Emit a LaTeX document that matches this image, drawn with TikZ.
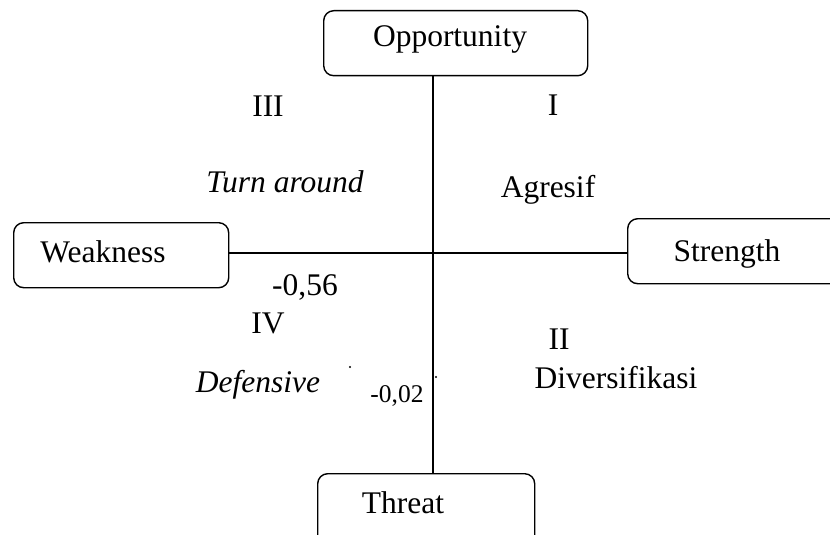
\documentclass[tikz,border=0pt]{standalone}
\usepackage{fontspec}
\setmainfont{Liberation Serif}
\begin{document}
\begin{tikzpicture}[x=1pt,y=-1pt,
  box/.style={draw,line width=1.4pt,rounded corners=10pt,inner sep=0pt,anchor=north west},
  lbl/.style={inner sep=0pt,anchor=base,font=\fontsize{31.5}{36}\selectfont},
  small/.style={inner sep=0pt,anchor=base,font=\fontsize{25.5}{30}\selectfont},
  axis/.style={line width=1.3pt}]
\useasboundingbox (0,0) rectangle (830,535);
\clip (0,0) rectangle (830,535);
% boxes
\node[box,minimum width=264pt,minimum height=65pt] (opp) at (323,10) {};
\node[box,minimum width=215pt,minimum height=65pt] (weak) at (13,222) {};
\node[box,minimum width=240pt,minimum height=65pt] (str) at (627,218) {};
\node[box,minimum width=217pt,minimum height=90pt] (thr) at (317,473) {};
% box texts
\node[lbl] (toppt) at (450,47) {Opportunity};
\node[lbl] (tweak) at (103,262) {Weakness};
\node[lbl] (tstr) at (727,261) {Strength};
\node[lbl] (tthr) at (403,513) {Threat};
% axes
\coordinate (vx) at (433,0);
\coordinate (hy) at (0,253);
\draw[axis] (opp.south -| vx) -- (thr.north -| vx);
\draw[axis] (weak.east |- hy) -- (str.west |- hy);
% quadrant labels
\node[lbl] (q3) at (268,116) {III};
\node[lbl] (q3t) at (285,192) {\itshape Turn around};
\node[lbl] (q1) at (553,115) {I};
\node[lbl] (q1t) at (548,197) {Agresif};
\node[lbl] (q2) at (559,349) {II};
\node[lbl] (q2t) at (616,388) {Diversifikasi};
\node[lbl] (v1) at (305,295) {-0,56};
\node[lbl] (q4) at (268,333) {IV};
\node[lbl] (q4t) at (258,392) {\itshape Defensive};
\node[small] (v2) at (397,402) {-0,02};
\fill (350,367) circle (1.1pt);
\fill (436,377) circle (1.1pt);
\end{tikzpicture}
\end{document}
